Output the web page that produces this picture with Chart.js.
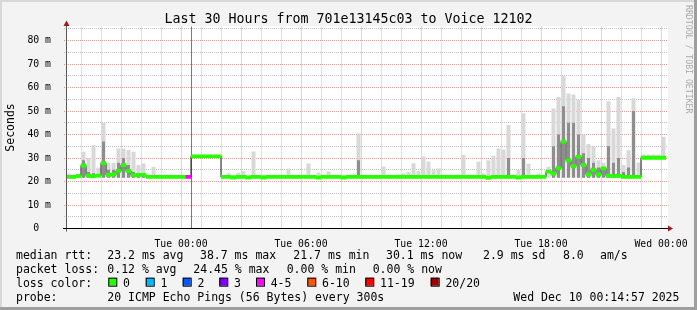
<!DOCTYPE html>
<html>
<head>
<meta charset="utf-8">
<script src="https://cdn.jsdelivr.net/npm/chart.js@4.4.1/dist/chart.umd.min.js"></script>
<style>
html,body{margin:0;padding:0;background:#f3f3f3;}
#wrap{width:697px;height:310px;position:relative;}
</style>
</head>
<body>
<div id="wrap"><canvas id="c" width="697" height="310"></canvas></div>
<script>
// ---------- DATA ----------
const startHour = -29.75;   // hours relative to Wed 00:00 (Mon 18:15)
const stepHours = 0.25;     // one consolidated sample per 15 minutes

const median = [
  22,22,22.3,26.8,22.5,22.3,22.5,27.8,22.8,23,24.5,27,24.5,22.6,22.8,22.8,22,22,22,22,
  22,22,22,22,22,30.7,30.7,30.7,30.7,30.7,30.7,22,22,21.7,22,22,21.7,22,22,21.7,
  22,22,22,22,22,22,22,22,22,22,21.7,22,22,22,22,21.7,22,22,22,22,
  22,22,22,22,22,22,22,22,22,22,22,22,22,22,22,22,22,22,22,22,
  22,22,22,22,21.6,22,22,22,22,22,21.7,22,22,22,22,22,24.2,23.4,25.7,37,
  29,26.5,30.5,27,23,25,23,25.6,22.5,22.3,22.5,22,22,22,22,30.1,30.1,30.1,30.1,30.1
];
const lossClass = [
  0,0,0,0,0,0,0,0,0,0,0,0,0,0,0,0,0,0,0,0,
  0,0,0,0,4,0,0,0,0,0,0,0,0,0,0,0,0,0,0,0,
  0,0,0,0,0,0,0,0,0,0,0,0,0,0,0,0,0,0,0,0,
  0,0,0,0,0,0,0,0,0,0,0,0,0,0,0,0,0,0,0,0,
  0,0,0,0,0,0,0,0,0,0,0,0,0,0,0,0,0,0,0,0,
  0,0,0,0,0,0,0,0,0,0,0,0,0,0,0,0,0,0,0,0
];
const smokeLo = [
  21.6,21.6,21.6,21.6,21.6,21.6,21.6,21.6,21.6,21.6,21.6,21.6,21.6,21.6,21.6,21.6,21.6,21.6,21.6,21.6,
  21.6,21.6,21.6,21.6,21.8,30.5,30.5,30.5,30.5,30.5,30.5,21.8,21.6,21.6,21.6,21.6,21.6,21.6,21.6,21.6,
  21.6,21.6,21.6,21.6,21.6,21.6,21.6,21.6,21.6,21.6,21.6,21.6,21.6,21.6,21.6,21.6,21.6,21.6,21.6,21.6,
  21.6,21.6,21.6,21.6,21.6,21.6,21.6,21.6,21.6,21.6,21.6,21.6,21.6,21.6,21.6,21.6,21.6,21.6,21.6,21.6,
  21.6,21.6,21.6,21.6,21.6,21.6,21.6,21.6,21.6,21.6,21.6,21.6,21.6,21.6,21.6,21.6,21.6,21.6,21.6,21.6,
  21.6,21.6,21.6,21.6,21.6,21.6,21.6,21.6,21.6,21.6,21.6,21.6,21.6,21.6,21.6,29.9,29.9,29.9,29.9,29.9
];
const smokeHi = [
  23.5,22.5,23,32.7,30,35.5,26,45,28,28,34,34,33.4,32.7,27,27.7,22.5,26.3,22,22,
  22,22.7,22,22,22,31,31,31,31,31,31,22.3,23.5,22.8,23.7,24.5,22.3,32.8,22.3,23,
  22.3,22.3,22.3,22.3,25.4,22.3,22.3,22.3,27.7,22.3,23.8,22,24.3,22.8,22,22,22,23,40.5,22,
  22.8,22.8,22,26.4,22,22.3,23,23.5,24,27.8,24.5,30.6,28.5,24.8,25.5,22,22,22,23,31.3,
  22,22,28.4,23.5,29,31,34,33.6,44,22.5,24.9,49,27.6,22.3,23.4,22.3,26.3,51.1,56,65,
  57.5,57,54.7,40,36,35.2,29,28,54.2,42.6,56,27,33.3,55.4,28,31.5,31.5,31.5,31.5,39
];
const smokeCore = [
  null,null,23,29,24,23.5,null,37,25,25,28,30,27,24,23.5,23.5,null,null,null,null,
  null,null,null,null,null,null,null,null,null,null,null,null,null,null,null,null,null,null,null,null,
  null,null,null,null,null,null,null,null,null,null,null,null,null,null,null,null,null,null,29,null,
  null,null,null,null,null,null,null,null,null,null,null,null,null,null,null,null,null,null,null,null,
  null,null,null,null,null,null,null,null,30,null,null,30,null,null,null,null,null,35,40,52,
  45,45,40,32,30,28,26,25,35,28,30,24,26,50,null,null,null,null,null,null
];
const eventHour = -23.5;   // vertical marker (Tue 00:30)

const yTicks = [0,10,20,30,40,50,60,70,80];
const yTickLabels = ['0  ','10 m','20 m','30 m','40 m','50 m','60 m','70 m','80 m'];
const xTickHours = [-24,-18,-12,-6,0];
const xTickLabels = ['Tue 00:00','Tue 06:00','Tue 12:00','Tue 18:00','Wed 00:00'];

const lossLabels = ['0','1','2','3','4-5','6-10','11-19','20/20'];
const lossColors = ['#26ff00','#00b8ff','#0059ff','#7e00ff','#ff00ff','#ff5500','#ff0000','#a10000'];

const statRows = [
  ['median rtt:','23.2 ms avg','38.7 ms max','21.7 ms min','30.1 ms now','2.9 ms sd','8.0','am/s'],
  ['packet loss:','0.12 % avg','24.45 % max','0.00 % min','0.00 % now'],
  ['loss color:'],
  ['probe:','20 ICMP Echo Pings (56 Bytes) every 300s','Wed Dec 10 00:14:57 2025']
];
const titleText = 'Last 30 Hours from 701e13145c03 to Voice 12102';
const yTitle = 'Seconds';
const watermark = 'RRDTOOL / TOBI OETIKER';

// ---------- LAYOUT / STYLE ----------
const MONO = '"DejaVu Sans Mono", monospace';
const statX = [
  [16,107.3,200,293.3,386,483,563,600],
  [16,107.3,193.3,286.7,372.7],
  [16],
  [16,107.3,513.3]
];
const statY = [258.7,272.7,286.7,300.6];
const lossBoxX = [108.3,145.7,182.7,219.3,256,307.3,365.3,430.7];
const medianHalf = 0.68;

const centers = median.map((_, i) => startHour + (i + 0.5) * stepHours);

const rrdPlugin = {
  id: 'rrd',
  beforeDraw(chart) {
    const {ctx, chartArea: a, width: w, height: h} = chart;
    ctx.save();
    ctx.fillStyle = '#f3f3f3'; ctx.fillRect(0, 0, w, h);
    ctx.fillStyle = '#d8d8d8'; ctx.fillRect(0, 0, w, 2); ctx.fillRect(0, 0, 2, h);
    ctx.fillStyle = '#9e9e9e'; ctx.fillRect(0, h - 3, w, 3); ctx.fillRect(w - 3, 0, 3, h);
    ctx.fillStyle = '#ffffff';
    ctx.fillRect(a.left, Math.floor(a.top), a.right - a.left + 2, a.bottom - Math.floor(a.top));
    ctx.restore();
  },
  beforeDatasetsDraw(chart) {
    const {ctx, chartArea: a, scales} = chart;
    const xs = scales.x, ys = scales.y;
    ctx.save();
    ctx.lineWidth = 1;
    ctx.setLineDash([1, 1]);
    for (let hr = Math.ceil(startHour); hr <= 0; hr++) {
      const px = Math.floor(xs.getPixelForValue(hr)) + 0.5;
      ctx.strokeStyle = (hr % 3 === 0) ? 'rgba(225,120,120,0.75)' : 'rgba(170,170,170,0.75)';
      ctx.beginPath(); ctx.moveTo(px, a.top); ctx.lineTo(px, a.bottom); ctx.stroke();
    }
    for (let v = 5; v <= 85; v += 5) {
      const py = Math.floor(ys.getPixelForValue(v)) + 0.5;
      ctx.strokeStyle = (v % 10 === 0) ? 'rgba(225,120,120,0.75)' : 'rgba(170,170,170,0.75)';
      ctx.beginPath(); ctx.moveTo(a.left - 2, py); ctx.lineTo(a.right + 2, py); ctx.stroke();
    }
    ctx.setLineDash([]);
    const ex = Math.floor(xs.getPixelForValue(eventHour)) + 0.5;
    ctx.strokeStyle = '#7a7a7a';
    ctx.beginPath(); ctx.moveTo(ex, a.top); ctx.lineTo(ex, a.bottom); ctx.stroke();
    ctx.restore();
  },
  afterDatasetsDraw(chart) {
    const {ctx, chartArea: a} = chart;
    ctx.save();
    ctx.lineWidth = 1;
    const ax = Math.floor(a.left) + 0.5, ay = Math.floor(a.bottom) + 0.5;
    ctx.strokeStyle = '#5a5a5a';
    ctx.beginPath(); ctx.moveTo(ax, ay + 3); ctx.lineTo(ax, a.top - 4); ctx.stroke();
    ctx.strokeStyle = '#000';
    ctx.beginPath(); ctx.moveTo(a.left - 3, ay); ctx.lineTo(a.right + 3, ay); ctx.stroke();
    ctx.fillStyle = '#9c1c1c';
    ctx.beginPath(); ctx.moveTo(ax, a.top - 6); ctx.lineTo(ax - 3, a.top - 0.5); ctx.lineTo(ax + 3, a.top - 0.5); ctx.closePath(); ctx.fill();
    ctx.beginPath(); ctx.moveTo(a.right + 7, ay); ctx.lineTo(a.right + 2, ay - 3); ctx.lineTo(a.right + 2, ay + 3); ctx.closePath(); ctx.fill();
    ctx.restore();
  },
  afterDraw(chart) {
    const {ctx, width: w} = chart;
    ctx.save();
    ctx.translate(w - 8.5, 5);
    ctx.rotate(Math.PI / 2);
    ctx.font = '8.2px ' + MONO;
    ctx.fillStyle = '#ababab';
    ctx.textBaseline = 'middle';
    ctx.textAlign = 'left';
    ctx.fillText(watermark, 0, 0);
    ctx.restore();

    ctx.save();
    ctx.font = '11.5px ' + MONO;
    ctx.fillStyle = '#000';
    ctx.textBaseline = 'alphabetic';
    ctx.textAlign = 'left';
    statRows.forEach((row, r) => row.forEach((t, k) => ctx.fillText(t, statX[r][k], statY[r])));
    lossLabels.forEach((lab, k) => {
      const bx = lossBoxX[k];
      ctx.fillStyle = lossColors[k];
      ctx.fillRect(bx, statY[2] - 9, 8, 8);
      ctx.strokeStyle = '#000'; ctx.lineWidth = 1;
      ctx.strokeRect(bx + 0.5, statY[2] - 8.5, 8, 8);
      ctx.fillStyle = '#000';
      ctx.fillText(lab, bx + 14.7, statY[2]);
    });
    ctx.restore();
  }
};

new Chart(document.getElementById('c'), {
  type: 'bar',
  data: {
    datasets: [
      {
        type: 'bar', label: 'median',
        data: median.map((m, i) => ({x: centers[i], y: [m - medianHalf, m + medianHalf]})),
        backgroundColor: c => lossColors[lossClass[c.dataIndex]],
        grouped: false, barPercentage: 1, categoryPercentage: 1, borderWidth: 0, order: 0
      },
      {
        type: 'line', label: 'median step',
        data: median.map((m, i) => ({x: centers[i], y: m})),
        stepped: 'middle', borderColor: '#1c1c1c', borderWidth: 1, pointRadius: 0, fill: false, order: 1
      },
      {
        type: 'bar', label: 'smoke core',
        data: smokeCore.map((v, i) => v === null ? null : ({x: centers[i], y: [smokeLo[i], v]})).filter(p => p),
        backgroundColor: '#8e8e8e',
        grouped: false, barPercentage: 0.6, categoryPercentage: 1, borderWidth: 0, order: 2
      },
      {
        type: 'bar', label: 'smoke',
        data: smokeHi.map((v, i) => ({x: centers[i], y: [smokeLo[i], v]})),
        backgroundColor: '#d8d8d8',
        grouped: false, barPercentage: 0.8, categoryPercentage: 1, borderWidth: 0, order: 3
      }
    ]
  },
  options: {
    responsive: false,
    animation: false,
    events: [],
    layout: {padding: 0},
    plugins: {
      legend: {display: false},
      tooltip: {enabled: false},
      title: {
        display: true, text: titleText, color: '#000',
        font: {family: MONO, size: 13.3, weight: 'normal', lineHeight: 1.1},
        padding: {top: 11.8, bottom: 0}
      }
    },
    scales: {
      x: {
        type: 'linear', min: startHour, max: startHour + median.length * stepHours, offset: false,
        position: 'bottom',
        afterFit(s) { s.height = 81.5; },
        afterBuildTicks(s) { s.ticks = xTickHours.map(v => ({value: v})); },
        ticks: {
          callback: v => xTickLabels[xTickHours.indexOf(v)],
          font: {family: MONO, size: 9.8}, color: '#000', padding: 2.5,
          maxRotation: 0, minRotation: 0, autoSkip: false
        },
        grid: {display: false}, border: {display: false}
      },
      y: {
        type: 'linear', min: 0, max: 86, position: 'left',
        afterFit(s) { s.width = 66; },
        afterBuildTicks(s) { s.ticks = yTicks.map(v => ({value: v})); },
        ticks: {
          callback: v => yTickLabels[yTicks.indexOf(v)],
          font: {family: MONO, size: 9.8}, color: '#000', padding: 7, autoSkip: false
        },
        grid: {display: false}, border: {display: false},
        title: {display: true, text: yTitle, color: '#000', font: {family: MONO, size: 11.5}, padding: {top: 4, bottom: 0}}
      },
      yR: {
        type: 'linear', position: 'right', display: true,
        afterFit(s) { s.width = 31; },
        ticks: {display: false}, grid: {display: false}, border: {display: false}
      }
    }
  },
  plugins: [rrdPlugin]
});
</script>
</body>
</html>
